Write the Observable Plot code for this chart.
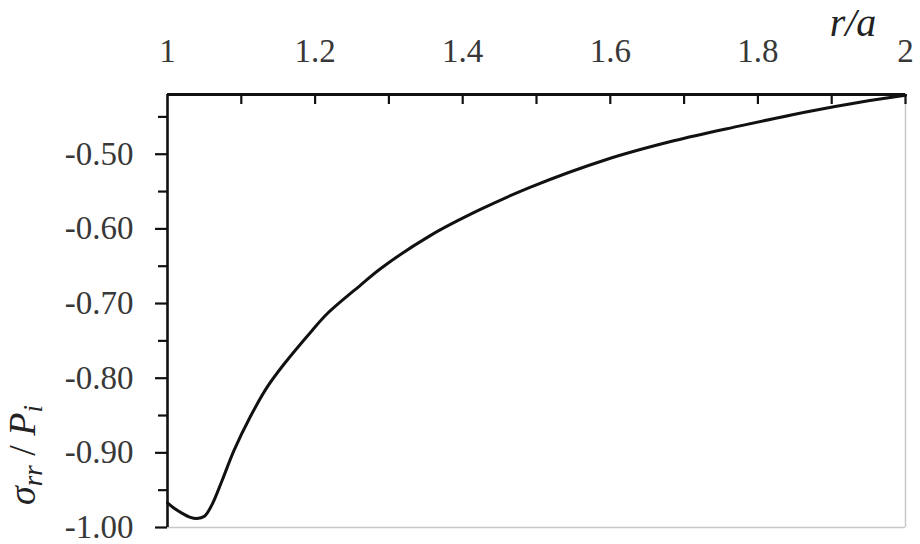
<!DOCTYPE html>
<html><head><meta charset="utf-8">
<script src="https://cdn.jsdelivr.net/npm/d3@7"></script>
<script src="https://cdn.jsdelivr.net/npm/@observablehq/plot@0.6"></script>
<style>body{margin:0;background:#fff} #chart{width:920px;height:544px}</style>
</head><body><div id="chart"></div>
<script>
// r/a values and sigma_rr/P_i
const rOverA = [1.0, 1.01, 1.02, 1.03, 1.04, 1.05, 1.06, 1.074, 1.09, 1.112, 1.135, 1.158, 1.196, 1.216, 1.262, 1.289, 1.356, 1.424, 1.492, 1.595, 1.686, 1.776, 1.867, 1.94, 2.0];
const sigmaOverP = [-0.967, -0.975, -0.981, -0.986, -0.988, -0.985, -0.970, -0.937, -0.897, -0.852, -0.812, -0.781, -0.736, -0.714, -0.675, -0.653, -0.609, -0.574, -0.544, -0.507, -0.482, -0.462, -0.443, -0.430, -0.421];
const xTickLabels = [1, 1.2, 1.4, 1.6, 1.8, 2];
const xTicks = [1.1, 1.2, 1.3, 1.4, 1.5, 1.6, 1.7, 1.8, 1.9, 2];
const yTickLabels = [-1.0, -0.9, -0.8, -0.7, -0.6, -0.5];
const yMinorTicks = [-0.95, -0.85, -0.75, -0.65, -0.55, -0.45];
const xTitle = "r/a";

const data = rOverA.map((r, i) => ({r, s: sigmaOverP[i]}));
const W = 920, H = 544, mL = 167, mR = 15, mT = 94, mB = 17;
const pw = W - mL - mR, ph = H - mT - mB;
const font = "'Liberation Serif', 'DejaVu Serif', serif";

const plot = Plot.plot({
  width: W, height: H,
  marginLeft: mL, marginRight: mR, marginTop: mT, marginBottom: mB,
  style: {fontFamily: font, fontSize: "33px", color: "#383838", background: "#fff"},
  x: {domain: [1, 2]},
  y: {domain: [-1, -0.42]},
  marks: [
    Plot.ruleX([2], {stroke: "#c8c8c8", strokeWidth: 1.5}),
    Plot.ruleY([-1], {stroke: "#c8c8c8", strokeWidth: 1.5}),
    // x ticks pointing down from the top axis
    Plot.tickX(xTicks, {x: d => d, stroke: "#111", strokeWidth: 2.2, insetBottom: ph - 10}),
    // y ticks pointing left
    Plot.tickY(yTickLabels, {y: d => d, stroke: "#111", strokeWidth: 2.2, insetLeft: -12, insetRight: pw}),
    Plot.tickY(yMinorTicks, {y: d => d, stroke: "#111", strokeWidth: 2.2, insetLeft: -9, insetRight: pw}),
    Plot.axisX(xTickLabels, {anchor: "top", tickSize: 0, tickPadding: 33, tickFormat: d => String(d), label: null, fill: "#383838"}),
    Plot.axisY(yTickLabels, {anchor: "left", tickSize: 0, tickPadding: 34, tickFormat: d => d.toFixed(2), label: null, fill: "#383838"}),
    Plot.lineY(data, {x: "r", y: "s", curve: "catmull-rom", stroke: "#111", strokeWidth: 3}),
    Plot.ruleY([-0.42], {stroke: "#111", strokeWidth: 3}),
    Plot.ruleX([1], {stroke: "#111", strokeWidth: 2.6})
  ]
});
document.getElementById("chart").appendChild(plot);

const svg = d3.select(plot);
svg.append("text")
  .attr("x", 853).attr("y", 36)
  .attr("text-anchor", "middle")
  .attr("font-family", font).attr("font-style", "italic")
  .attr("font-size", 40).attr("fill", "#222")
  .text(xTitle);

const yl = svg.append("text")
  .attr("transform", "translate(35,455) rotate(-90)")
  .attr("text-anchor", "middle")
  .attr("font-family", font).attr("font-style", "italic")
  .attr("font-size", 38).attr("fill", "#222");
yl.append("tspan").text("σ");
yl.append("tspan").attr("font-size", 27).attr("dy", 7).text("rr");
yl.append("tspan").attr("dy", -7).attr("font-style", "normal").text(" / ");
yl.append("tspan").text("P");
yl.append("tspan").attr("font-size", 27).attr("dy", 7).text("i");
</script>
</body></html>
